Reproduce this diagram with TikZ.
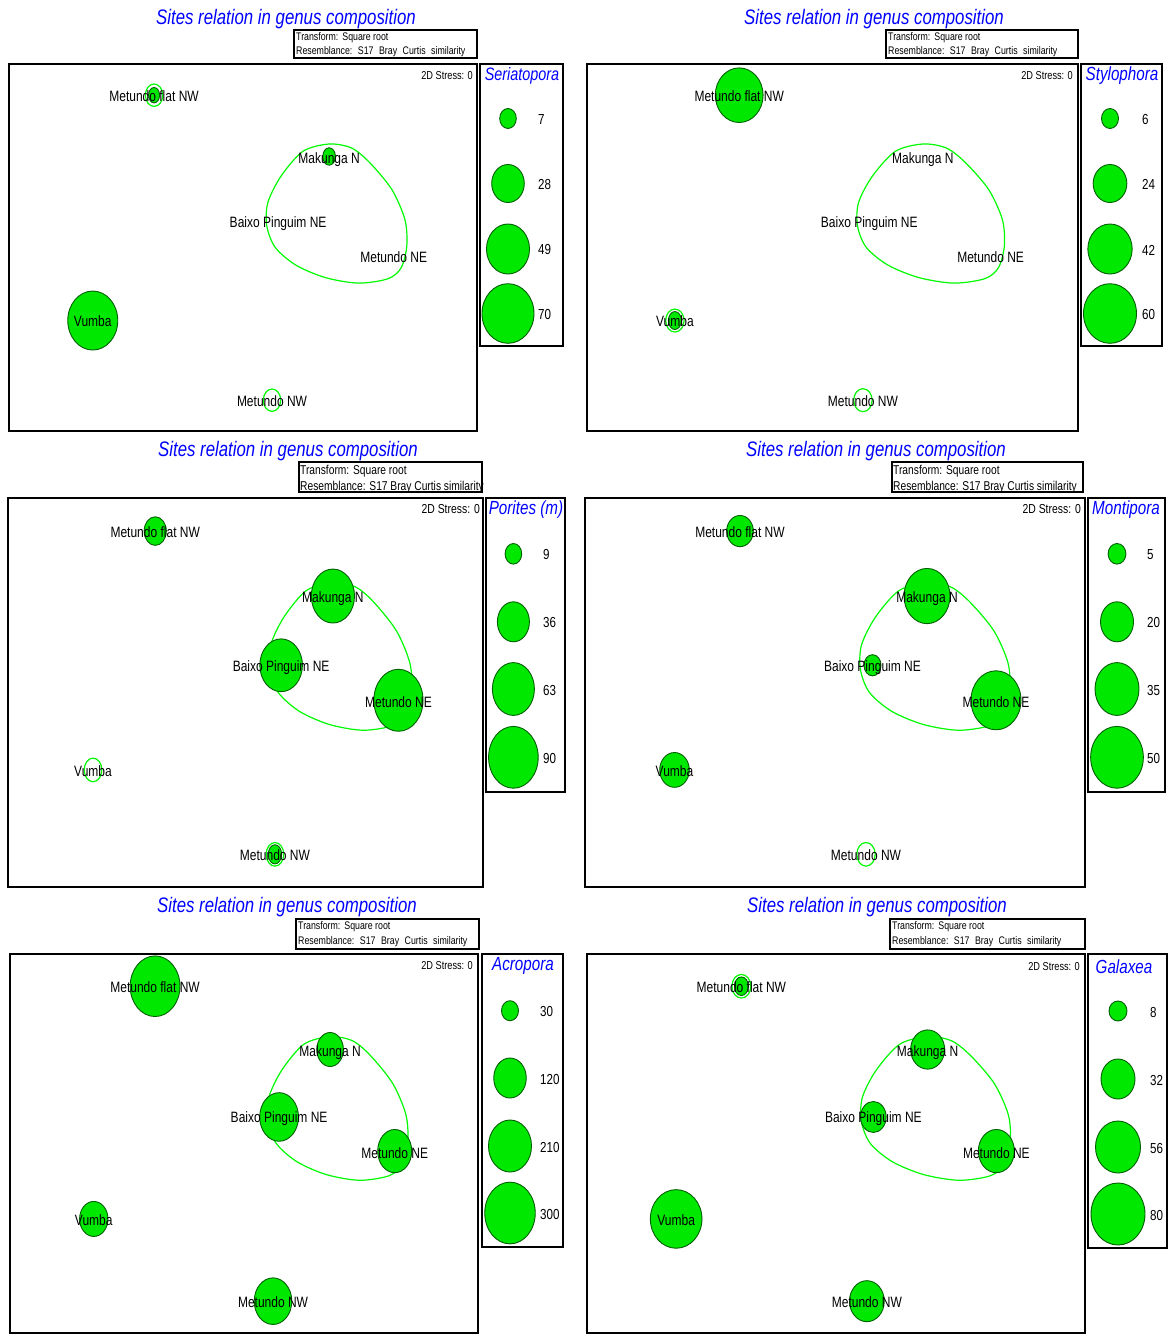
\documentclass[tikz,border=0pt]{standalone}
\usepackage{fontspec}
\setmainfont{Liberation Sans}
\newfontfamily\cf{Liberation Sans}[FakeStretch=0.8]
\usetikzlibrary{shapes.geometric}
\definecolor{bubfill}{RGB}{0,232,0}
\definecolor{bubline}{RGB}{0,95,0}
\definecolor{cont}{RGB}{0,250,0}
\definecolor{ttlblue}{RGB}{0,0,255}
\tikzset{
 boxln/.style={draw=black, line width=1.5pt},
 ttl/.style={font=\cf\itshape\fontsize{21}{23}\selectfont, text=ttlblue, inner sep=0pt, yshift=-1.5pt},
 legttl/.style={font=\cf\itshape\fontsize{19}{21}\selectfont, text=ttlblue, inner sep=0pt, yshift=-1pt},
 sitelab/.style={font=\cf\fontsize{15}{17}\selectfont, inner sep=0pt},
 legnum/.style={font=\cf\fontsize{14.5}{16}\selectfont, inner sep=0pt, anchor=west, yshift=-1pt},
 stresstxt/.style={font=\cf\fontsize{11.5}{13}\selectfont, inner sep=0pt, anchor=east, yshift=-1pt},
 infotxt/.style={font=\cf\fontsize{11}{12}\selectfont, inner sep=0pt, anchor=west, yshift=-1pt},
 infobig/.style={font=\cf\fontsize{12.8}{14}\selectfont, inner sep=0pt, anchor=west, yshift=-1pt},
 bubst/.style={ellipse, draw=bubline, fill=bubfill, line width=0.9pt, inner sep=0pt, outer sep=0pt},
 ringst/.style={ellipse, draw=cont, line width=1.2pt, inner sep=0pt, outer sep=0pt},
 cline/.style={draw=cont, line width=1.2pt},
}
\newcommand\Bub[4]{\node[bubst,minimum width=#3pt,minimum height=#4pt] (#1) at (#2) {};}
\newcommand\Ring[4]{\node[ringst,minimum width=#3pt,minimum height=#4pt] (#1) at (#2) {};}
\newcommand\SiteCoords[1]{%
 \coordinate (#1MF) at (0.310,0.085);
 \coordinate (#1MK) at (0.684,0.252);
 \coordinate (#1BP) at (0.575,0.430);
 \coordinate (#1MNE) at (0.822,0.520);
 \coordinate (#1VU) at (0.179,0.699);
 \coordinate (#1MNW) at (0.562,0.916);
}
\newcommand\Contour[1]{%
 \draw[cline] plot[smooth cycle] coordinates {(0.684,0.218) (0.732,0.229) (0.771,0.269) (0.818,0.342) (0.846,0.424) (0.850,0.496) (0.838,0.555) (0.810,0.585) (0.747,0.597) (0.676,0.582) (0.613,0.548) (0.569,0.500) (0.551,0.442) (0.553,0.378) (0.581,0.306) (0.628,0.238)};
}
\newcommand\SiteLabels[1]{%
 \node[sitelab] (#1tmf) at ([yshift=-1pt]#1MF) {Metundo flat NW};
 \node[sitelab] (#1tmk) at ([yshift=-3pt]#1MK) {Makunga N};
 \node[sitelab] (#1tbp) at ([yshift=-2pt]#1BP) {Baixo Pinguim NE};
 \node[sitelab] (#1tmne) at ([yshift=-2pt]#1MNE) {Metundo NE};
 \node[sitelab] (#1tvu) at ([yshift=-1pt]#1VU) {Vumba};
 \node[sitelab] (#1tmnw) at ([yshift=-1pt]#1MNW) {Metundo NW};
}
\newcommand\InfoSpaced[4]{%
 \node[infotxt] (#1i1) at (#2,#3) {Transform:\hspace{4pt}Square root};
 \node[infotxt] (#1i2) at (#2,#4) {Resemblance:\hspace{5.5pt}S17\hspace{5.5pt}Bray\hspace{5.5pt}Curtis\hspace{5.5pt}similarity};
}
\newcommand\InfoTight[4]{%
 \node[infobig] (#1i1) at (#2,#3) {Transform: Square root};
 \node[infobig] (#1i2) at (#2,#4) {Resemblance: S17 Bray Curtis similarity};
}
\begin{document}
\begin{tikzpicture}[x=1pt,y=-1pt]
\useasboundingbox (0,0) rectangle (1175,1334);
\fill[white] (0,0) rectangle (1175,1334);

%% ================= Panel 1 =================
\node[ttl] (p1title) at (286,18) {Sites relation in genus composition};
\draw[boxln] (294,30) rectangle (477,58);
\InfoSpaced{p1}{296}{37}{51}
\draw[boxln] (9,64) rectangle (477,431);
\node[stresstxt] (p1stress) at (473,75) {2D Stress: 0};
\draw[boxln] (480,64) rectangle (563,346);
\node[legttl,font=\cf\itshape\fontsize{18}{20}\selectfont] (p1legt) at (522,75) {Seriatopora};
\node[bubst,minimum width=16.6pt,minimum height=20pt] (p1c1) at (508,118.5) {};
\node[bubst,minimum width=32.6pt,minimum height=38pt] (p1c2) at (508,183.5) {};
\node[bubst,minimum width=43pt,minimum height=50pt] (p1c3) at (508,249) {};
\node[bubst,minimum width=52pt,minimum height=59.6pt] (p1c4) at (508,313.5) {};
\node[legnum] (p1n1) at (538,118.5) {7};
\node[legnum] (p1n2) at (538,183.5) {28};
\node[legnum] (p1n3) at (538,249) {49};
\node[legnum] (p1n4) at (538,313.5) {70};
\begin{scope}[shift={(9,64)}, x=468pt, y=-367pt]
 \SiteCoords{p1}
 \Contour{p1}
 \Ring{p1rmf}{p1MF}{17.4}{22.4}
 \Ring{p1rvu}{p1VU}{17.4}{22.4}
 \Ring{p1rmnw}{p1MNW}{17.4}{22.4}
 \Bub{p1bmf}{p1MF}{11}{15.4}
 \Bub{p1bmk}{p1MK}{12.6}{17.4}
 \Bub{p1bvu}{p1VU}{50}{59}
 \SiteLabels{p1}
\end{scope}

%% ================= Panel 2 =================
\node[ttl] (p2title) at (874,18) {Sites relation in genus composition};
\draw[boxln] (886,30) rectangle (1078,58);
\InfoSpaced{p2}{888}{37}{51}
\draw[boxln] (587,64) rectangle (1078,431);
\node[stresstxt] (p2stress) at (1073,75) {2D Stress: 0};
\draw[boxln] (1081,64) rectangle (1162,346);
\node[legttl] (p2legt) at (1122,75) {Stylophora};
\node[bubst,minimum width=17pt,minimum height=20pt] (p2c1) at (1110,118.5) {};
\node[bubst,minimum width=33.7pt,minimum height=38pt] (p2c2) at (1110,183.5) {};
\node[bubst,minimum width=44.3pt,minimum height=50pt] (p2c3) at (1110,249) {};
\node[bubst,minimum width=53pt,minimum height=59.6pt] (p2c4) at (1110,313.5) {};
\node[legnum] (p2n1) at (1142,118.5) {6};
\node[legnum] (p2n2) at (1142,183.5) {24};
\node[legnum] (p2n3) at (1142,249) {42};
\node[legnum] (p2n4) at (1142,313.5) {60};
\begin{scope}[shift={(587,64)}, x=491pt, y=-367pt]
 \SiteCoords{p2}
 \Contour{p2}
 \Ring{p2rmf}{p2MF}{18.4}{23}
 \Ring{p2rvu}{p2VU}{18.4}{23}
 \Ring{p2rmnw}{p2MNW}{18.4}{23}
 \Bub{p2bmf}{p2MF}{47.8}{54.6}
 \Bub{p2bvu}{p2VU}{13}{18}
 \SiteLabels{p2}
\end{scope}

%% ================= Panel 3 =================
\node[ttl] (p3title) at (288,449.5) {Sites relation in genus composition};
\draw[boxln] (299,462) rectangle (482,492);
\InfoTight{p3}{300}{470.5}{486}
\draw[boxln] (8,498) rectangle (483,887);
\node[stresstxt,font=\cf\fontsize{13}{14}\selectfont] (p3stress) at (480,508) {2D Stress: 0};
\draw[boxln] (486,498) rectangle (565,792);
\node[legttl] (p3legt) at (526,508.5) {Porites (m)};
\node[bubst,minimum width=16.6pt,minimum height=20.6pt] (p3c1) at (513.4,553.8) {};
\node[bubst,minimum width=32pt,minimum height=40pt] (p3c2) at (513.4,621.8) {};
\node[bubst,minimum width=42pt,minimum height=52.8pt] (p3c3) at (513.4,689) {};
\node[bubst,minimum width=49.6pt,minimum height=61.8pt] (p3c4) at (513.4,757.3) {};
\node[legnum] (p3n1) at (543,553.8) {9};
\node[legnum] (p3n2) at (543,621.8) {36};
\node[legnum] (p3n3) at (543,689) {63};
\node[legnum] (p3n4) at (543,757.3) {90};
\begin{scope}[shift={(8,498)}, x=475pt, y=-389pt]
 \SiteCoords{p3}
 \Contour{p3}
 \Ring{p3rmf}{p3MF}{17.6}{23.6}
 \Ring{p3rvu}{p3VU}{17.6}{23.6}
 \Ring{p3rmnw}{p3MNW}{17.6}{23.6}
 \Bub{p3bmf}{p3MF}{22.2}{28.6}
 \Bub{p3bmk}{p3MK}{43.2}{54}
 \Bub{p3bbp}{p3BP}{42.6}{52.8}
 \Bub{p3bmne}{p3MNE}{49.2}{62}
 \Bub{p3bmnw}{p3MNW}{13.4}{19.2}
 \SiteLabels{p3}
\end{scope}

%% ================= Panel 4 =================
\node[ttl] (p4title) at (876,449.5) {Sites relation in genus composition};
\draw[boxln] (892,462) rectangle (1083,492);
\InfoTight{p4}{893}{470.5}{486}
\draw[boxln] (585,498) rectangle (1085,887);
\node[stresstxt,font=\cf\fontsize{13}{14}\selectfont] (p4stress) at (1081,508) {2D Stress: 0};
\draw[boxln] (1088,498) rectangle (1165,792);
\node[legttl] (p4legt) at (1126,508.5) {Montipora};
\node[bubst,minimum width=17.8pt,minimum height=20.6pt] (p4c1) at (1117,553.8) {};
\node[bubst,minimum width=33pt,minimum height=40pt] (p4c2) at (1117,621.8) {};
\node[bubst,minimum width=44pt,minimum height=52.8pt] (p4c3) at (1117,689) {};
\node[bubst,minimum width=52.7pt,minimum height=61.8pt] (p4c4) at (1117,757.3) {};
\node[legnum] (p4n1) at (1147,553.8) {5};
\node[legnum] (p4n2) at (1147,621.8) {20};
\node[legnum] (p4n3) at (1147,689) {35};
\node[legnum] (p4n4) at (1147,757.3) {50};
\begin{scope}[shift={(585,498)}, x=500pt, y=-389pt]
 \SiteCoords{p4}
 \Contour{p4}
 \Ring{p4rmf}{p4MF}{18.4}{23.6}
 \Ring{p4rvu}{p4VU}{18.4}{23.6}
 \Ring{p4rmnw}{p4MNW}{18.4}{23.6}
 \Bub{p4bmf}{p4MF}{26.6}{31.2}
 \Bub{p4bmk}{p4MK}{46}{55.2}
 \Bub{p4bbp}{p4BP}{17}{21.2}
 \Bub{p4bmne}{p4MNE}{50}{59}
 \Bub{p4bvu}{p4VU}{29.6}{34.8}
 \SiteLabels{p4}
\end{scope}

%% ================= Panel 5 =================
\node[ttl] (p5title) at (287,906) {Sites relation in genus composition};
\draw[boxln] (296,919) rectangle (479,949);
\InfoSpaced{p5}{298}{926}{941}
\draw[boxln] (10,954) rectangle (478,1333);
\node[stresstxt] (p5stress) at (473,965) {2D Stress: 0};
\draw[boxln] (482,954) rectangle (563,1247);
\node[legttl] (p5legt) at (523,965) {Acropora};
\node[bubst,minimum width=17pt,minimum height=20pt] (p5c1) at (510,1010.7) {};
\node[bubst,minimum width=32.5pt,minimum height=40pt] (p5c2) at (510,1078) {};
\node[bubst,minimum width=43pt,minimum height=52pt] (p5c3) at (510,1146) {};
\node[bubst,minimum width=50.5pt,minimum height=61.7pt] (p5c4) at (510,1213) {};
\node[legnum] (p5n1) at (540,1010.7) {30};
\node[legnum] (p5n2) at (540,1078) {120};
\node[legnum] (p5n3) at (540,1146) {210};
\node[legnum] (p5n4) at (540,1213) {300};
\begin{scope}[shift={(10,954)}, x=468pt, y=-379pt]
 \SiteCoords{p5}
 \Contour{p5}
 \Ring{p5rmf}{p5MF}{17.6}{23}
 \Ring{p5rvu}{p5VU}{17.6}{23}
 \Ring{p5rmnw}{p5MNW}{17.6}{23}
 \Bub{p5bmf}{p5MF}{49.8}{60.6}
 \Bub{p5bmk}{p5MK}{26.6}{34}
 \Bub{p5bbp}{p5BP}{38.8}{48.6}
 \Bub{p5bmne}{p5MNE}{34}{43.2}
 \Bub{p5bvu}{p5VU}{28.4}{35}
 \Bub{p5bmnw}{p5MNW}{37.6}{46.6}
 \SiteLabels{p5}
\end{scope}

%% ================= Panel 6 =================
\node[ttl] (p6title) at (877,906) {Sites relation in genus composition};
\draw[boxln] (890,919) rectangle (1085,949);
\InfoSpaced{p6}{892}{926}{941}
\draw[boxln] (587,954) rectangle (1085,1333);
\node[stresstxt] (p6stress) at (1080,966) {2D Stress: 0};
\draw[boxln] (1088,954) rectangle (1167,1248);
\node[legttl] (p6legt) at (1124,966) {Galaxea};
\node[bubst,minimum width=18pt,minimum height=20pt] (p6c1) at (1118,1011) {};
\node[bubst,minimum width=34pt,minimum height=40pt] (p6c2) at (1118,1079) {};
\node[bubst,minimum width=45pt,minimum height=52pt] (p6c3) at (1118,1147) {};
\node[bubst,minimum width=54pt,minimum height=62pt] (p6c4) at (1118,1214) {};
\node[legnum] (p6n1) at (1150,1011) {8};
\node[legnum] (p6n2) at (1150,1079) {32};
\node[legnum] (p6n3) at (1150,1147) {56};
\node[legnum] (p6n4) at (1150,1214) {80};
\begin{scope}[shift={(587,954)}, x=498pt, y=-379pt]
 \SiteCoords{p6}
 \Contour{p6}
 \Ring{p6rmf}{p6MF}{19}{23.6}
 \Ring{p6rvu}{p6VU}{19}{23.6}
 \Ring{p6rmnw}{p6MNW}{19}{23.6}
 \Bub{p6bmf}{p6MF}{14}{18.6}
 \Bub{p6bmk}{p6MK}{34}{39.2}
 \Bub{p6bbp}{p6BP}{25.6}{31}
 \Bub{p6bmne}{p6MNE}{36}{43.2}
 \Bub{p6bvu}{p6VU}{51.6}{58.6}
 \Bub{p6bmnw}{p6MNW}{34.8}{41}
 \SiteLabels{p6}
\end{scope}
\end{tikzpicture}
\end{document}
